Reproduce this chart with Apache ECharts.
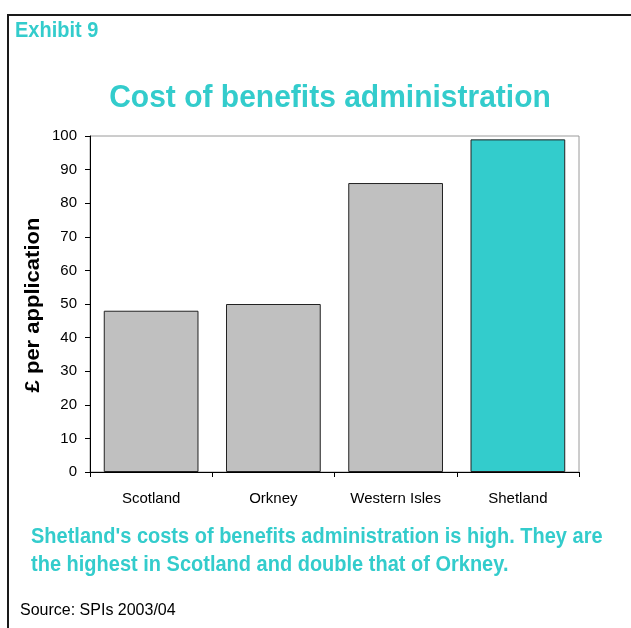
<!DOCTYPE html>
<html>
<head>
<meta charset="utf-8">
<title>Cost of benefits administration</title>
<script src="https://cdn.jsdelivr.net/npm/echarts@6/dist/echarts.min.js"></script>
<style>
  html, body { margin: 0; padding: 0; background: #ffffff; }
  #chart { width: 631px; height: 628px; }
</style>
</head>
<body>
<div id="chart"></div>
<script>
// Cost per benefit application, 2003/04 (£)
const areas = ['Scotland', 'Orkney', 'Western Isles', 'Shetland'];
const costPerApplication = [48, 50, 86, 99];
const highlightArea = 'Shetland';

const yTicks = { min: 0, max: 100, step: 10 };

const exhibitLabel = 'Exhibit 9';
const chartTitle = 'Cost of benefits administration';
const yAxisTitle = '£ per application';
const captionLines = [
  "Shetland's costs of benefits administration is high. They are",
  'the highest in Scotland and double that of Orkney.'
];
const sourceNote = 'Source: SPIs 2003/04';

const TEAL = '#33CCCC';
const FONT = "'Liberation Sans', Arial, Helvetica, sans-serif";

const chart = echarts.init(document.getElementById('chart'), null, { renderer: 'canvas' });

function label(text, x, y, opts) {
  return {
    type: 'text',
    x: x,
    y: y,
    rotation: opts.rotation || 0,
    scaleX: opts.scaleX || 1,
    scaleY: opts.scaleY || 1,
    silent: true,
    style: {
      text: text,
      x: 0,
      y: 0,
      fill: opts.color || '#000',
      font: (opts.weight || 'normal') + ' ' + opts.size + 'px ' + FONT,
      textAlign: opts.align || 'left',
      textVerticalAlign: 'middle'
    }
  };
}

const option = {
  animation: false,
  backgroundColor: '#ffffff',
  grid: {
    left: 90,
    right: 52,
    top: 136,
    bottom: 156,
    show: true,
    borderColor: '#9a9a9a',
    borderWidth: 1,
    backgroundColor: 'transparent'
  },
  xAxis: {
    type: 'category',
    data: areas,
    boundaryGap: true,
    axisLine: { lineStyle: { color: '#000', width: 1 } },
    axisTick: { show: true, length: 5, alignWithLabel: false, lineStyle: { color: '#000' } },
    axisLabel: { color: '#000', fontSize: 15, fontFamily: FONT, margin: 19, interval: 0 },
    splitLine: { show: false }
  },
  yAxis: {
    type: 'value',
    min: yTicks.min,
    max: yTicks.max,
    interval: yTicks.step,
    axisLine: { show: true, lineStyle: { color: '#000', width: 1 } },
    axisTick: { show: true, length: 5, lineStyle: { color: '#000' } },
    axisLabel: { color: '#000', fontSize: 15, fontFamily: FONT, margin: 13 },
    splitLine: { show: false }
  },
  series: [{
    type: 'bar',
    barWidth: '77.5%',
    data: costPerApplication.map((v, i) => ({
      value: v,
      itemStyle: {
        color: areas[i] === highlightArea ? TEAL : '#C0C0C0',
        borderColor: '#222',
        borderWidth: 1
      }
    }))
  }],
  graphic: [
    {
      type: 'polyline',
      silent: true,
      shape: { points: [[8, 628], [8, 15], [631, 15]] },
      style: { stroke: '#1a1a1a', lineWidth: 2, fill: null }
    },
    label(exhibitLabel, 15, 31, { size: 20, weight: 'bold', color: TEAL, scaleY: 1.08 }),
    label(chartTitle, 330, 98.5, { size: 30, weight: 'bold', color: TEAL, align: 'center', scaleY: 1.07 }),
    label(yAxisTitle, 33, 305, { size: 20, weight: 'bold', align: 'center', rotation: Math.PI / 2, scaleX: 1.1 }),
    label(captionLines[0], 31, 537, { size: 20, weight: 'bold', color: TEAL, scaleY: 1.12 }),
    label(captionLines[1], 31, 565, { size: 20, weight: 'bold', color: TEAL, scaleY: 1.12 }),
    label(sourceNote, 20, 611, { size: 16 })
  ]
};

chart.setOption(option);
</script>
</body>
</html>
